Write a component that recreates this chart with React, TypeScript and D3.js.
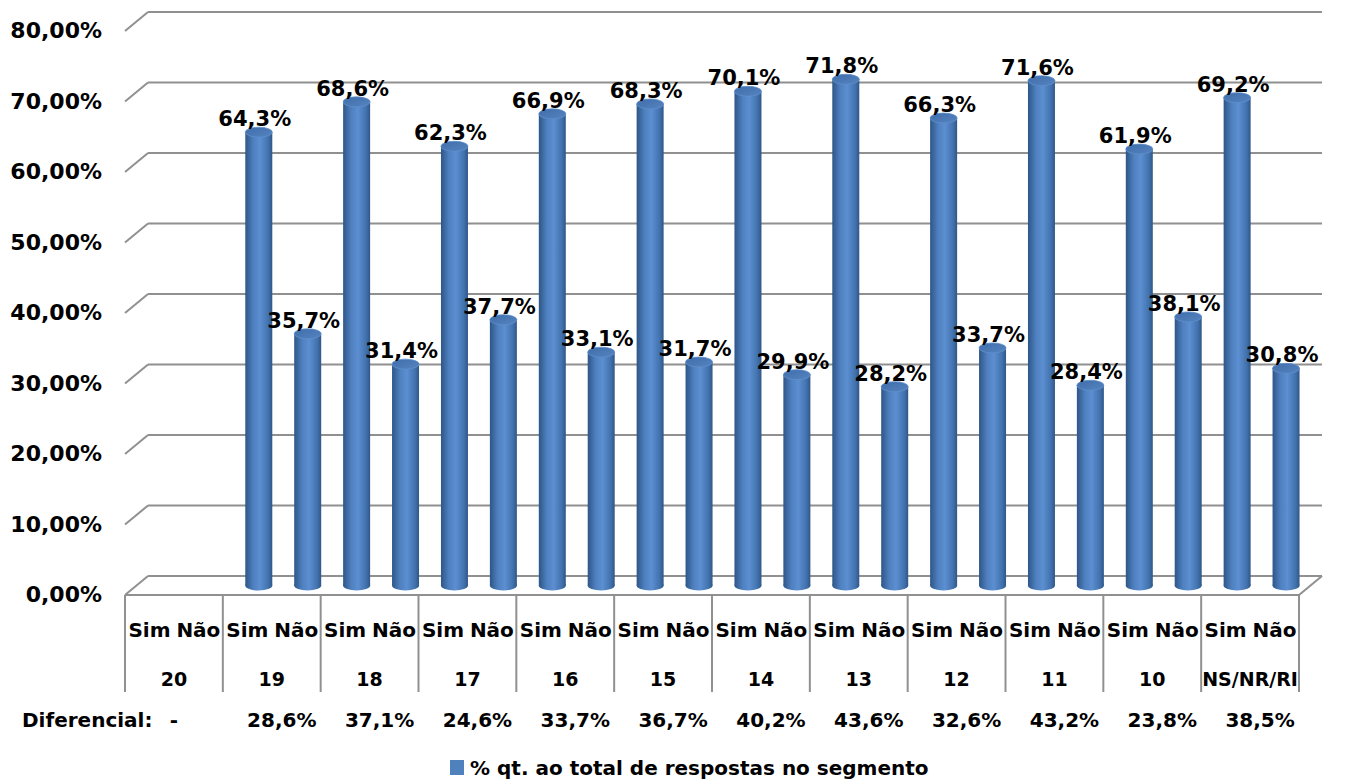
import React from "react";
import * as d3 from "d3";

const groups = ["20", "19", "18", "17", "16", "15", "14", "13", "12", "11", "10", "NS/NR/RI"];
const answers = ["Sim", "Não"];
const simValues: (number | null)[] = [null, 64.3, 68.6, 62.3, 66.9, 68.3, 70.1, 71.8, 66.3, 71.6, 61.9, 69.2];
const naoValues: (number | null)[] = [null, 35.7, 31.4, 37.7, 33.1, 31.7, 29.9, 28.2, 33.7, 28.4, 38.1, 30.8];
const diferencial = ["-", "28,6%", "37,1%", "24,6%", "33,7%", "36,7%", "40,2%", "43,6%", "32,6%", "43,2%", "23,8%", "38,5%"];
const yTicks = [0, 10, 20, 30, 40, 50, 60, 70, 80];
const legendLabel = "% qt. ao total de respostas no segmento";

const W = 1351;
const H = 780;
const FONT = "'DejaVu Sans', sans-serif";
const DX = 23;
const DY = -19;
const BAR_W = 27;
const RY = 5;

const fmtTick = (v: number) => v.toFixed(2).replace(".", ",") + "%";
const fmtVal = (v: number) => v.toFixed(1).replace(".", ",") + "%";

export default function App() {
  const x = d3.scaleBand<string>().domain(groups).range([125, 1299]).padding(0);
  const sub = d3.scaleBand<string>().domain(answers).range([0, x.bandwidth()]).padding(0);
  const y = d3.scaleLinear().domain([0, 80]).range([595, 31]);

  const bars: { key: string; cx: number; top: number; base: number; v: number }[] = [];
  groups.forEach((g, i) => {
    [simValues[i], naoValues[i]].forEach((v, j) => {
      if (v == null) return;
      const cx = (x(g) ?? 0) + (sub(answers[j]) ?? 0) + sub.bandwidth() / 2 + DX / 2;
      bars.push({ key: g + j, cx, top: y(v) + DY / 2, base: y(0) + DY / 2, v });
    });
  });

  const xL = x.range()[0];
  const xR = x.range()[1];
  const grid = "#909090";

  return (
    <svg width={W} height={H} style={{ position: "absolute", left: 0, top: 0, background: "#fff" }}>
      <defs>
        <linearGradient id="cyl" x1="0" x2="1" y1="0" y2="0">
          <stop offset="0%" stopColor="#2e5687" />
          <stop offset="30%" stopColor="#4f80c0" />
          <stop offset="55%" stopColor="#5c8fd1" />
          <stop offset="85%" stopColor="#4272ae" />
          <stop offset="100%" stopColor="#2f5788" />
        </linearGradient>
        <linearGradient id="cap" x1="0" x2="1" y1="0" y2="1">
          <stop offset="0%" stopColor="#3e6da8" />
          <stop offset="100%" stopColor="#5584c2" />
        </linearGradient>
      </defs>

      {/* back wall gridlines + left depth edges */}
      {yTicks.map((t) => (
        <g key={t}>
          <line x1={xL + DX} x2={xR + DX} y1={y(t) + DY} y2={y(t) + DY} stroke={grid} strokeWidth={2} />
          <line x1={xL} x2={xL + DX} y1={y(t)} y2={y(t) + DY} stroke={grid} strokeWidth={2} />
        </g>
      ))}
      {/* floor front edge and right edge */}
      <line x1={xL} x2={xR} y1={y(0)} y2={y(0)} stroke={grid} strokeWidth={2} />
      <line x1={xR} x2={xR + DX} y1={y(0)} y2={y(0) + DY} stroke={grid} strokeWidth={2} />

      {/* y tick labels */}
      {yTicks.map((t) => (
        <text key={t} x={102} y={y(t) + 7} textAnchor="end" fontFamily={FONT} fontWeight="bold" fontSize={22} fill="#000">
          {fmtTick(t)}
        </text>
      ))}

      {/* cylinders */}
      {bars.map((b) => (
        <g key={b.key}>
          <rect x={b.cx - BAR_W / 2} y={b.top} width={BAR_W} height={b.base - b.top} fill="url(#cyl)" />
          <ellipse cx={b.cx} cy={b.base} rx={BAR_W / 2} ry={RY} fill="url(#cyl)" />
          <ellipse cx={b.cx} cy={b.top} rx={BAR_W / 2} ry={RY} fill="url(#cap)" stroke="#5f8fcc" strokeWidth={0.8} />
        </g>
      ))}

      {/* value labels */}
      {bars.map((b) => (
        <text key={"l" + b.key} x={b.cx - 4} y={b.top - RY - 1} textAnchor="middle" fontFamily={FONT} fontWeight="bold" fontSize={21} fill="#000">
          {fmtVal(b.v)}
        </text>
      ))}

      {/* category table */}
      {[...groups.map((g) => x(g) ?? 0), xR].map((gx, i) => (
        <line key={"v" + i} x1={gx} x2={gx} y1={y(0)} y2={692} stroke={grid} strokeWidth={2} />
      ))}
      {groups.map((g) =>
        answers.map((a) => (
          <text key={g + a} x={(x(g) ?? 0) + (sub(a) ?? 0) + sub.bandwidth() / 2} y={637} textAnchor="middle" fontFamily={FONT} fontWeight="bold" fontSize={20}>
            {a}
          </text>
        ))
      )}
      {groups.map((g) => (
        <text key={"g" + g} x={(x(g) ?? 0) + x.bandwidth() / 2} y={686} textAnchor="middle" fontFamily={FONT} fontWeight="bold" fontSize={19}>
          {g}
        </text>
      ))}

      {/* diferencial row */}
      <text x={22} y={727} fontFamily={FONT} fontWeight="bold" fontSize={20}>Diferencial:</text>
      {groups.map((g, i) => (
        <text key={"d" + g} x={(x(g) ?? 0) + x.bandwidth() / 2 + (i === 0 ? 0 : 10)} y={727} textAnchor="middle" fontFamily={FONT} fontWeight="bold" fontSize={20}>
          {diferencial[i]}
        </text>
      ))}

      {/* legend */}
      <rect x={450} y={760} width={14} height={15} fill="#4f81bd" />
      <text x={470} y={775} fontFamily={FONT} fontWeight="bold" fontSize={20}>{legendLabel}</text>
    </svg>
  );
}
